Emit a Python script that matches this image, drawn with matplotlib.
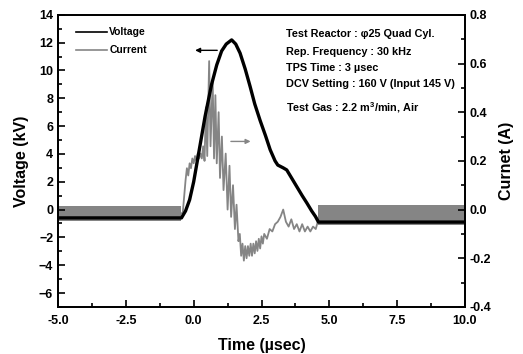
import matplotlib
matplotlib.use("Agg")
import matplotlib.pyplot as plt
from matplotlib.lines import Line2D

plt.rcParams["font.family"] = ["Liberation Sans", "DejaVu Sans"]
plt.rcParams["font.weight"] = "bold"
plt.rcParams["mathtext.fontset"] = "custom"
plt.rcParams["mathtext.rm"] = "Liberation Sans:bold"
plt.rcParams["mathtext.bf"] = "Liberation Sans:bold"

# voltage trace (usec, kV)
volt_t = [-5.0, -0.45, -0.3, -0.15, 0.0, 0.17, 0.42, 0.66, 0.85, 1.03, 1.2, 1.4,
          1.55, 1.71, 1.9, 2.08, 2.25, 2.45, 2.65, 2.82, 3.0, 3.1, 3.3, 3.43,
          3.6, 3.8, 4.0, 4.17, 4.35, 4.49, 4.6, 10.0]
volt_kv = [-0.6, -0.6, -0.1, 0.7, 2.0, 3.9, 6.7, 9.0, 10.4, 11.4, 11.9, 12.2,
           11.9, 11.25, 10.1, 8.85, 7.6, 6.4, 5.3, 4.3, 3.5, 3.2, 3.0, 2.85,
           2.3, 1.65, 1.0, 0.48, -0.1, -0.5, -0.9, -0.9]

# current trace (usec, A)
curr_t = [-5.0, -0.45, -0.4, -0.3, -0.25, -0.2, -0.15, -0.1, -0.05, 0.0, 0.05,
          0.1, 0.15, 0.2, 0.25, 0.3, 0.35, 0.4, 0.45, 0.5, 0.57, 0.62, 0.7,
          0.75, 0.8, 0.85, 0.92, 0.97, 1.04, 1.1, 1.18, 1.25, 1.32, 1.38, 1.45,
          1.52, 1.58, 1.65, 1.7, 1.75, 1.8, 1.85, 1.9, 1.95, 2.0, 2.05, 2.1,
          2.15, 2.2, 2.25, 2.3, 2.35, 2.4, 2.45, 2.5, 2.55, 2.6, 2.7, 2.8,
          2.9, 3.0, 3.1, 3.2, 3.3, 3.4, 3.5, 3.6, 3.7, 3.8, 3.9, 4.0, 4.1,
          4.2, 4.3, 4.4, 4.5, 4.6, 4.7, 10.0]
curr_a = [-0.017, -0.017, -0.01, 0.12, 0.17, 0.14, 0.19, 0.17, 0.21, 0.19, 0.22,
          0.2, 0.23, 0.21, 0.23, 0.21, 0.26, 0.2, 0.42, 0.22, 0.61, 0.26, 0.53,
          0.21, 0.47, 0.19, 0.4, 0.13, 0.3, 0.08, 0.23, 0.0, 0.18, -0.03, 0.1,
          -0.08, 0.02, -0.13, -0.1, -0.19, -0.14, -0.21, -0.15, -0.2, -0.15, -0.19, -0.14,
          -0.19, -0.14, -0.18, -0.13, -0.17, -0.12, -0.16, -0.11, -0.14, -0.1, -0.12, -0.08,
          -0.09, -0.06, -0.05, -0.03, 0.0, -0.05, -0.07, -0.04, -0.08, -0.06, -0.09, -0.06, -0.09,
          -0.07, -0.09, -0.07, -0.08, -0.04, -0.02, -0.02]

# baseline noise bands of the current (usec, A)
band_pre_t = [-5.0, -0.45]
band_pre_lo = [-0.049, -0.049]
band_pre_hi = [0.015, 0.015]
band_post_t = [4.6, 10.0]
band_post_lo = [-0.063, -0.063]
band_post_hi = [0.02, 0.02]

notes = ["Test Reactor : \u03c625 Quad Cyl.", "Rep. Frequency : 30 kHz",
         "TPS Time : 3 \u00b5sec", "DCV Setting : 160 V (Input 145 V)",
         "Test Gas : 2.2 m$^{3}$/min, Air"]

gray = "#858585"

fig = plt.figure(figsize=(5.23, 3.54), dpi=100)
ax = fig.add_axes([0.111, 0.133, 0.778, 0.825])
ax2 = ax.twinx()

ax2.fill_between(band_pre_t, band_pre_lo, band_pre_hi, color=gray, lw=0)
ax2.fill_between(band_post_t, band_post_lo, band_post_hi, color=gray, lw=0)
ax2.plot(curr_t, curr_a, color=gray, lw=1.3)
ax.plot(volt_t, volt_kv, color="black", lw=2.4)

ax.set_zorder(ax2.get_zorder() + 1)
ax.patch.set_visible(False)

ax.set_xlim(-5, 10)
ax.set_ylim(-7, 14)
ax2.set_ylim(-0.4, 0.8)
ax.set_xticks([-5, -2.5, 0, 2.5, 5, 7.5, 10])
ax.set_xticklabels(["-5.0", "-2.5", "0.0", "2.5", "5.0", "7.5", "10.0"])
ax.set_xticks([-3.75, -1.25, 1.25, 3.75, 6.25, 8.75], minor=True)
ax.set_yticks(range(-6, 15, 2))
ax.set_yticks(range(-7, 14, 2), minor=True)
ax2.set_yticks([-0.4, -0.2, 0.0, 0.2, 0.4, 0.6, 0.8])
ax2.set_yticklabels(["-0.4", "-0.2", "0.0", "0.2", "0.4", "0.6", "0.8"])
ax2.set_yticks([-0.3, -0.1, 0.1, 0.3, 0.5, 0.7], minor=True)

for a in (ax, ax2):
    a.tick_params(which="both", direction="in", labelsize=9, width=1.2)
    a.tick_params(which="major", length=5)
    a.tick_params(which="minor", length=3)
    for s in a.spines.values():
        s.set_linewidth(1.3)
ax.tick_params(axis="x", pad=6)

ax.set_xlabel("Time (\u00b5sec)", fontsize=11.5, fontweight="bold", labelpad=8)
ax.set_ylabel("Voltage (kV)", fontsize=11.5, fontweight="bold", labelpad=7)
ax2.set_ylabel("Curnet (A)", fontsize=11.5, fontweight="bold", labelpad=5)

handles = [Line2D([], [], color="black", lw=1.2), Line2D([], [], color=gray, lw=1.2)]
ax.legend(handles, ["Voltage", "Current"], loc="upper left", frameon=False,
          fontsize=7.5, handlelength=3.0, handletextpad=0.25, labelspacing=0.8,
          bbox_to_anchor=(0.02, 0.99))

note_y = [12.6, 11.3, 10.15, 9.0, 7.35]
for txt, y in zip(notes, note_y):
    ax.text(3.4, y, txt, fontsize=7.8, fontweight="bold", va="center")

ax.annotate("", xy=(-0.05, 11.45), xytext=(0.97, 11.45),
            arrowprops=dict(arrowstyle="-|>", color="black", lw=1.0,
                            mutation_scale=7))
ax.annotate("", xy=(2.2, 4.9), xytext=(1.27, 4.9),
            arrowprops=dict(arrowstyle="-|>", color=gray, lw=1.0,
                            mutation_scale=7))

fig.savefig("out.png", dpi=100)
